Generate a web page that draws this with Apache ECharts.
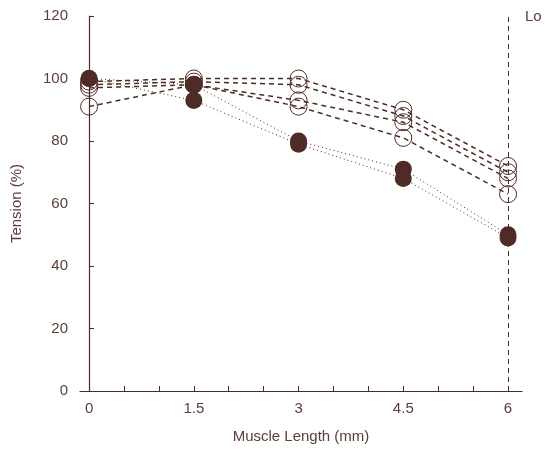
<!DOCTYPE html>
<html>
<head>
<meta charset="utf-8">
<script src="https://cdn.jsdelivr.net/npm/echarts@6/dist/echarts.min.js"></script>
<style>
  html, body { margin: 0; padding: 0; background: #fff; }
  #chart { width: 546px; height: 453px; }
</style>
</head>
<body>
<div id="chart"></div>
<script>
// muscle length (mm)
var lengths = [0, 1.5, 3, 4.5, 6];
var xTicks = [0, 0.5, 1, 1.5, 2, 2.5, 3, 3.5, 4, 4.5, 5, 5.5, 6];
var xLabels = [0, 1.5, 3, 4.5, 6];

// open circles, dashed lines
var open1 = [99, 100, 100, 90, 72];
var open2 = [98, 99, 98, 88, 70];
var open3 = [97, 98, 93, 86, 68];
var open4 = [91, 98, 91, 81, 63];
// filled circles, dotted lines
var filled1 = [100, 98, 80, 71, 50];
var filled2 = [100, 93, 79, 68, 49];

var ink = '#4e2b25';
var txt = '#5b3d37';

function pairs(ys) {
  var out = [];
  for (var i = 0; i < lengths.length; i++) out.push([lengths[i], ys[i]]);
  return out;
}

function openSeries(ys) {
  return {
    type: 'line',
    data: pairs(ys),
    symbol: 'circle',
    symbolSize: 17,
    z: 2,
    lineStyle: { color: ink, width: 1.5, type: [5, 4] },
    itemStyle: { color: 'rgba(255,255,255,0)', borderColor: ink, borderWidth: 1 },
    silent: true
  };
}
function filledSeries(ys) {
  return {
    type: 'line',
    data: pairs(ys),
    symbol: 'circle',
    symbolSize: 17,
    z: 3,
    lineStyle: { color: ink, width: 1, type: [1, 3] },
    itemStyle: { color: ink, borderWidth: 0 },
    silent: true
  };
}

var myChart = echarts.init(document.getElementById('chart'));
var series = [open1, open2, open3, open4].map(openSeries)
  .concat([filled1, filled2].map(filledSeries));

// vertical Lo line
series.push({
  type: 'line',
  data: [],
  markLine: {
    silent: true,
    symbol: 'none',
    label: { show: false },
    lineStyle: { color: ink, width: 1, type: [5, 4] },
    data: [[{ coord: [6, 0] }, { coord: [6, 120] }]]
  }
});

myChart.setOption({
  animation: false,
  grid: { left: 80, right: 24, top: 16, bottom: 62 },
  xAxis: {
    type: 'value',
    min: -0.13,
    max: 6.2,
    name: 'Muscle Length (mm)',
    nameLocation: 'middle',
    nameGap: 38,
    nameTextStyle: { color: txt, fontSize: 15, fontFamily: 'Liberation Sans' },
    axisLine: { show: true, lineStyle: { color: ink, width: 1.2 } },
    axisTick: { show: true, inside: true, length: 5, customValues: xTicks, lineStyle: { color: ink } },
    axisLabel: { color: txt, fontSize: 15, margin: 10, fontFamily: 'Liberation Sans', customValues: xLabels },
    splitLine: { show: false }
  },
  yAxis: {
    type: 'value',
    min: 0,
    max: 120,
    interval: 20,
    name: 'Tension (%)',
    nameLocation: 'middle',
    nameGap: 56,
    nameTextStyle: { color: txt, fontSize: 15, fontFamily: 'Liberation Sans' },
    axisLine: { show: true, lineStyle: { color: ink, width: 1.2 } },
    axisTick: { show: true, inside: true, length: 5, lineStyle: { color: ink } },
    axisLabel: { color: txt, fontSize: 15, margin: 12, fontFamily: 'Liberation Sans' },
    splitLine: { show: false }
  },
  graphic: [{
    type: 'text',
    left: 525,
    top: 9,
    style: { text: 'Lo', fill: txt, fontSize: 15, fontFamily: 'Liberation Sans' }
  }],
  series: series
});
</script>
</body>
</html>
